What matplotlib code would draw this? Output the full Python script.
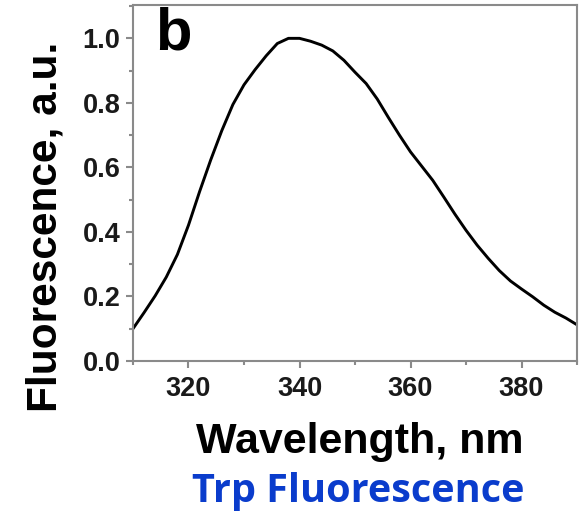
import numpy as np
import matplotlib
matplotlib.use("Agg")
import matplotlib.pyplot as plt
from matplotlib.ticker import MultipleLocator

# Trp fluorescence emission spectrum (normalised)
wavelength = [310, 312, 314, 316, 318, 320, 322, 324, 326, 328, 330,
              332, 334, 336, 338, 340, 342, 344, 346, 348, 350,
              352, 354, 356, 358, 360, 362, 364, 366, 368, 370,
              372, 374, 376, 378, 380, 382, 384, 386, 388, 390]
fluor = [0.100, 0.150, 0.202, 0.260, 0.330, 0.421, 0.525, 0.623, 0.714, 0.795, 0.856,
         0.903, 0.946, 0.984, 1.000, 1.000, 0.991, 0.979, 0.961, 0.932, 0.895,
         0.860, 0.812, 0.755, 0.700, 0.648, 0.604, 0.560, 0.508, 0.455, 0.405,
         0.359, 0.318, 0.280, 0.248, 0.223, 0.199, 0.173, 0.151, 0.133, 0.112]

plt.rcParams['font.family'] = ['Liberation Sans', 'DejaVu Sans']

fig = plt.figure(figsize=(5.82, 5.12), dpi=100)
ax = fig.add_axes([0.2285, 0.295, 0.763, 0.695])

ax.plot(wavelength, fluor, color='black', lw=2.1, solid_joinstyle='round')

ax.set_xlim(310, 390)
ax.set_ylim(0, 1.103)
ax.xaxis.set_major_locator(MultipleLocator(20))
ax.xaxis.set_minor_locator(MultipleLocator(10))
ax.yaxis.set_major_locator(MultipleLocator(0.2))
ax.yaxis.set_minor_locator(MultipleLocator(0.1))
ax.yaxis.set_major_formatter(plt.FormatStrFormatter('%.1f'))

for s in ax.spines.values():
    s.set_color('#8a8a8a')
    s.set_linewidth(1.5)
ax.tick_params(which='major', direction='out', length=5, width=1.5,
               color='#8a8a8a', labelsize=19.5)
ax.tick_params(axis='x', which='major', pad=6)
ax.tick_params(axis='y', which='major', pad=4)
ax.tick_params(which='minor', direction='out', length=3, width=1.5,
               color='#8a8a8a')
for lab in ax.get_xticklabels() + ax.get_yticklabels():
    lab.set_fontweight('bold')
    lab.set_color('#1a1a1a')

ax.set_xlabel('Wavelength, nm', fontsize=31, fontweight='bold')
ax.xaxis.set_label_coords(0.51, -0.172)
ax.set_ylabel('Fluorescence, a.u.', fontsize=30.5, fontweight='bold')
ax.yaxis.set_label_coords(-0.153, 0.376)

ax.text(0.05, 0.995, 'b', transform=ax.transAxes, fontsize=43,
        fontweight='bold', va='top', ha='left')

fig.text(0.615, 0.04, 'Trp Fluorescence', fontsize=28.5, fontweight='bold',
         color='#0a3ccc', ha='center', va='center', family=['Open Sans', 'DejaVu Sans'])

fig.savefig('out.png', dpi=100)
